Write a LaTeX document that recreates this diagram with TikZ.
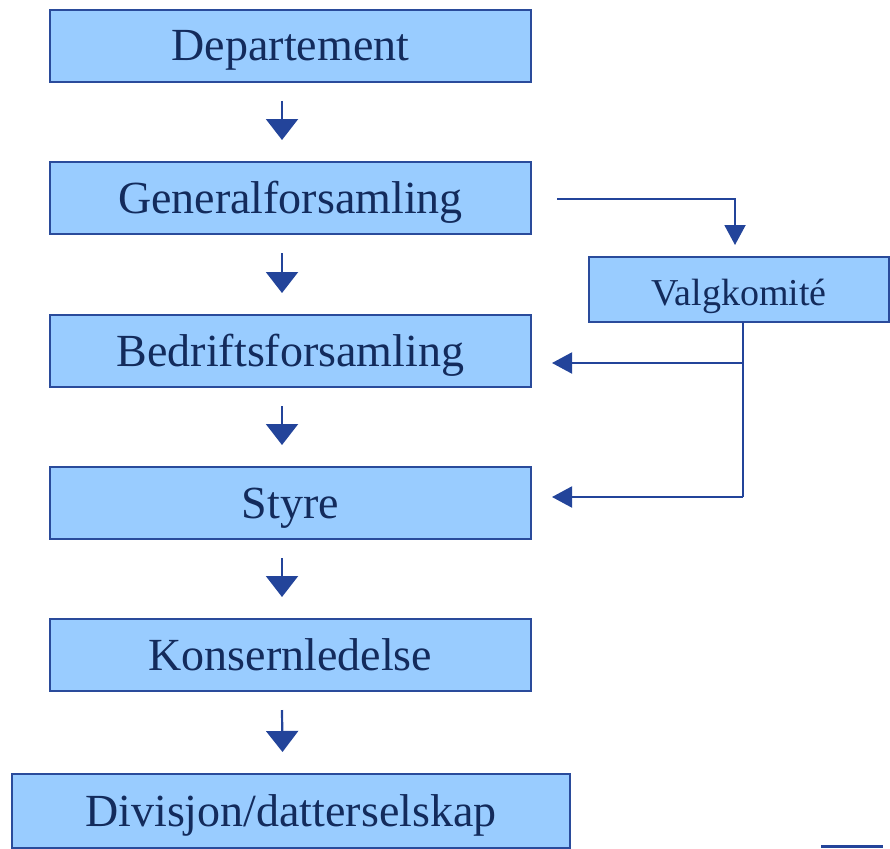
\documentclass[tikz,border=0pt]{standalone}
\usepackage{fontspec}
\setmainfont{Liberation Serif}
\usetikzlibrary{arrows.meta,calc}
\definecolor{boxfill}{HTML}{99CCFF}
\definecolor{boxline}{HTML}{2A4B9B}
\definecolor{txt}{HTML}{132B5C}
\definecolor{arr}{HTML}{23449A}
\begin{document}
\begin{tikzpicture}[x=1pt,y=-1pt,
  orgbox/.style={draw=boxline,fill=boxfill,line width=2.5pt,inner sep=0pt,outer sep=0pt,
    text=txt,font=\fontsize{46}{50}\selectfont,text height=40pt,text depth=10pt},
  smallbox/.style={orgbox,font=\fontsize{38}{42}\selectfont,text height=38pt,text depth=7pt},
  bigarrow/.style={draw=arr,line width=2.2pt,-{Triangle[length=21pt,width=32pt]}},
  thinarrow/.style={draw=arr,line width=2pt,-{Triangle[length=20pt,width=21pt]}},
  thinline/.style={draw=arr,line width=2pt}]
\useasboundingbox (0,0) rectangle (890,848);
\node[orgbox,minimum width=481pt,minimum height=72pt] (dep) at (290.5,46) {Departement};
\node[orgbox,minimum width=481pt,minimum height=72pt] (gen) at (290.5,198) {Generalforsamling};
\node[orgbox,minimum width=481pt,minimum height=72pt] (bed) at (290.5,351) {Bedriftsforsamling};
\node[orgbox,minimum width=481pt,minimum height=72pt] (sty) at (290.5,503) {Styre};
\node[orgbox,minimum width=481pt,minimum height=72pt] (kon) at (290.5,655) {Konsernledelse};
\node[orgbox,minimum width=558pt,minimum height=74pt] (div) at (291,811) {Divisjon/datterselskap};
\node[smallbox,minimum width=300pt,minimum height=65pt] (val) at (739,289.5) {Valgkomité};
% vertical arrows between boxes
\foreach \a/\b in {dep/gen,gen/bed,bed/sty,sty/kon,kon/div}{
  \coordinate (s\a) at ($(\a.south)+(-8.5,19)$);
  \coordinate (e\a) at ($(\b.north)+(-8.5,-22)$);
  \draw[bigarrow] (s\a) -- (e\a);
}
% to Valgkomité
\coordinate (g1) at ($(gen.east)+(26,1)$);
\draw[thinarrow] (g1) -| ($(val.north)+(-4,-12)$);
% from Valgkomité
\coordinate (vb) at (743,497);
\draw[thinline] (val.south -| vb) -- (vb);
\draw[thinarrow] (743,363) -- ($(bed.east)+(21,12)$);
\draw[thinarrow] (vb) -- ($(sty.east)+(21,-6)$);
% small mark bottom right
\fill[arr] (821,845) rectangle (883,848);
\end{tikzpicture}
\end{document}
